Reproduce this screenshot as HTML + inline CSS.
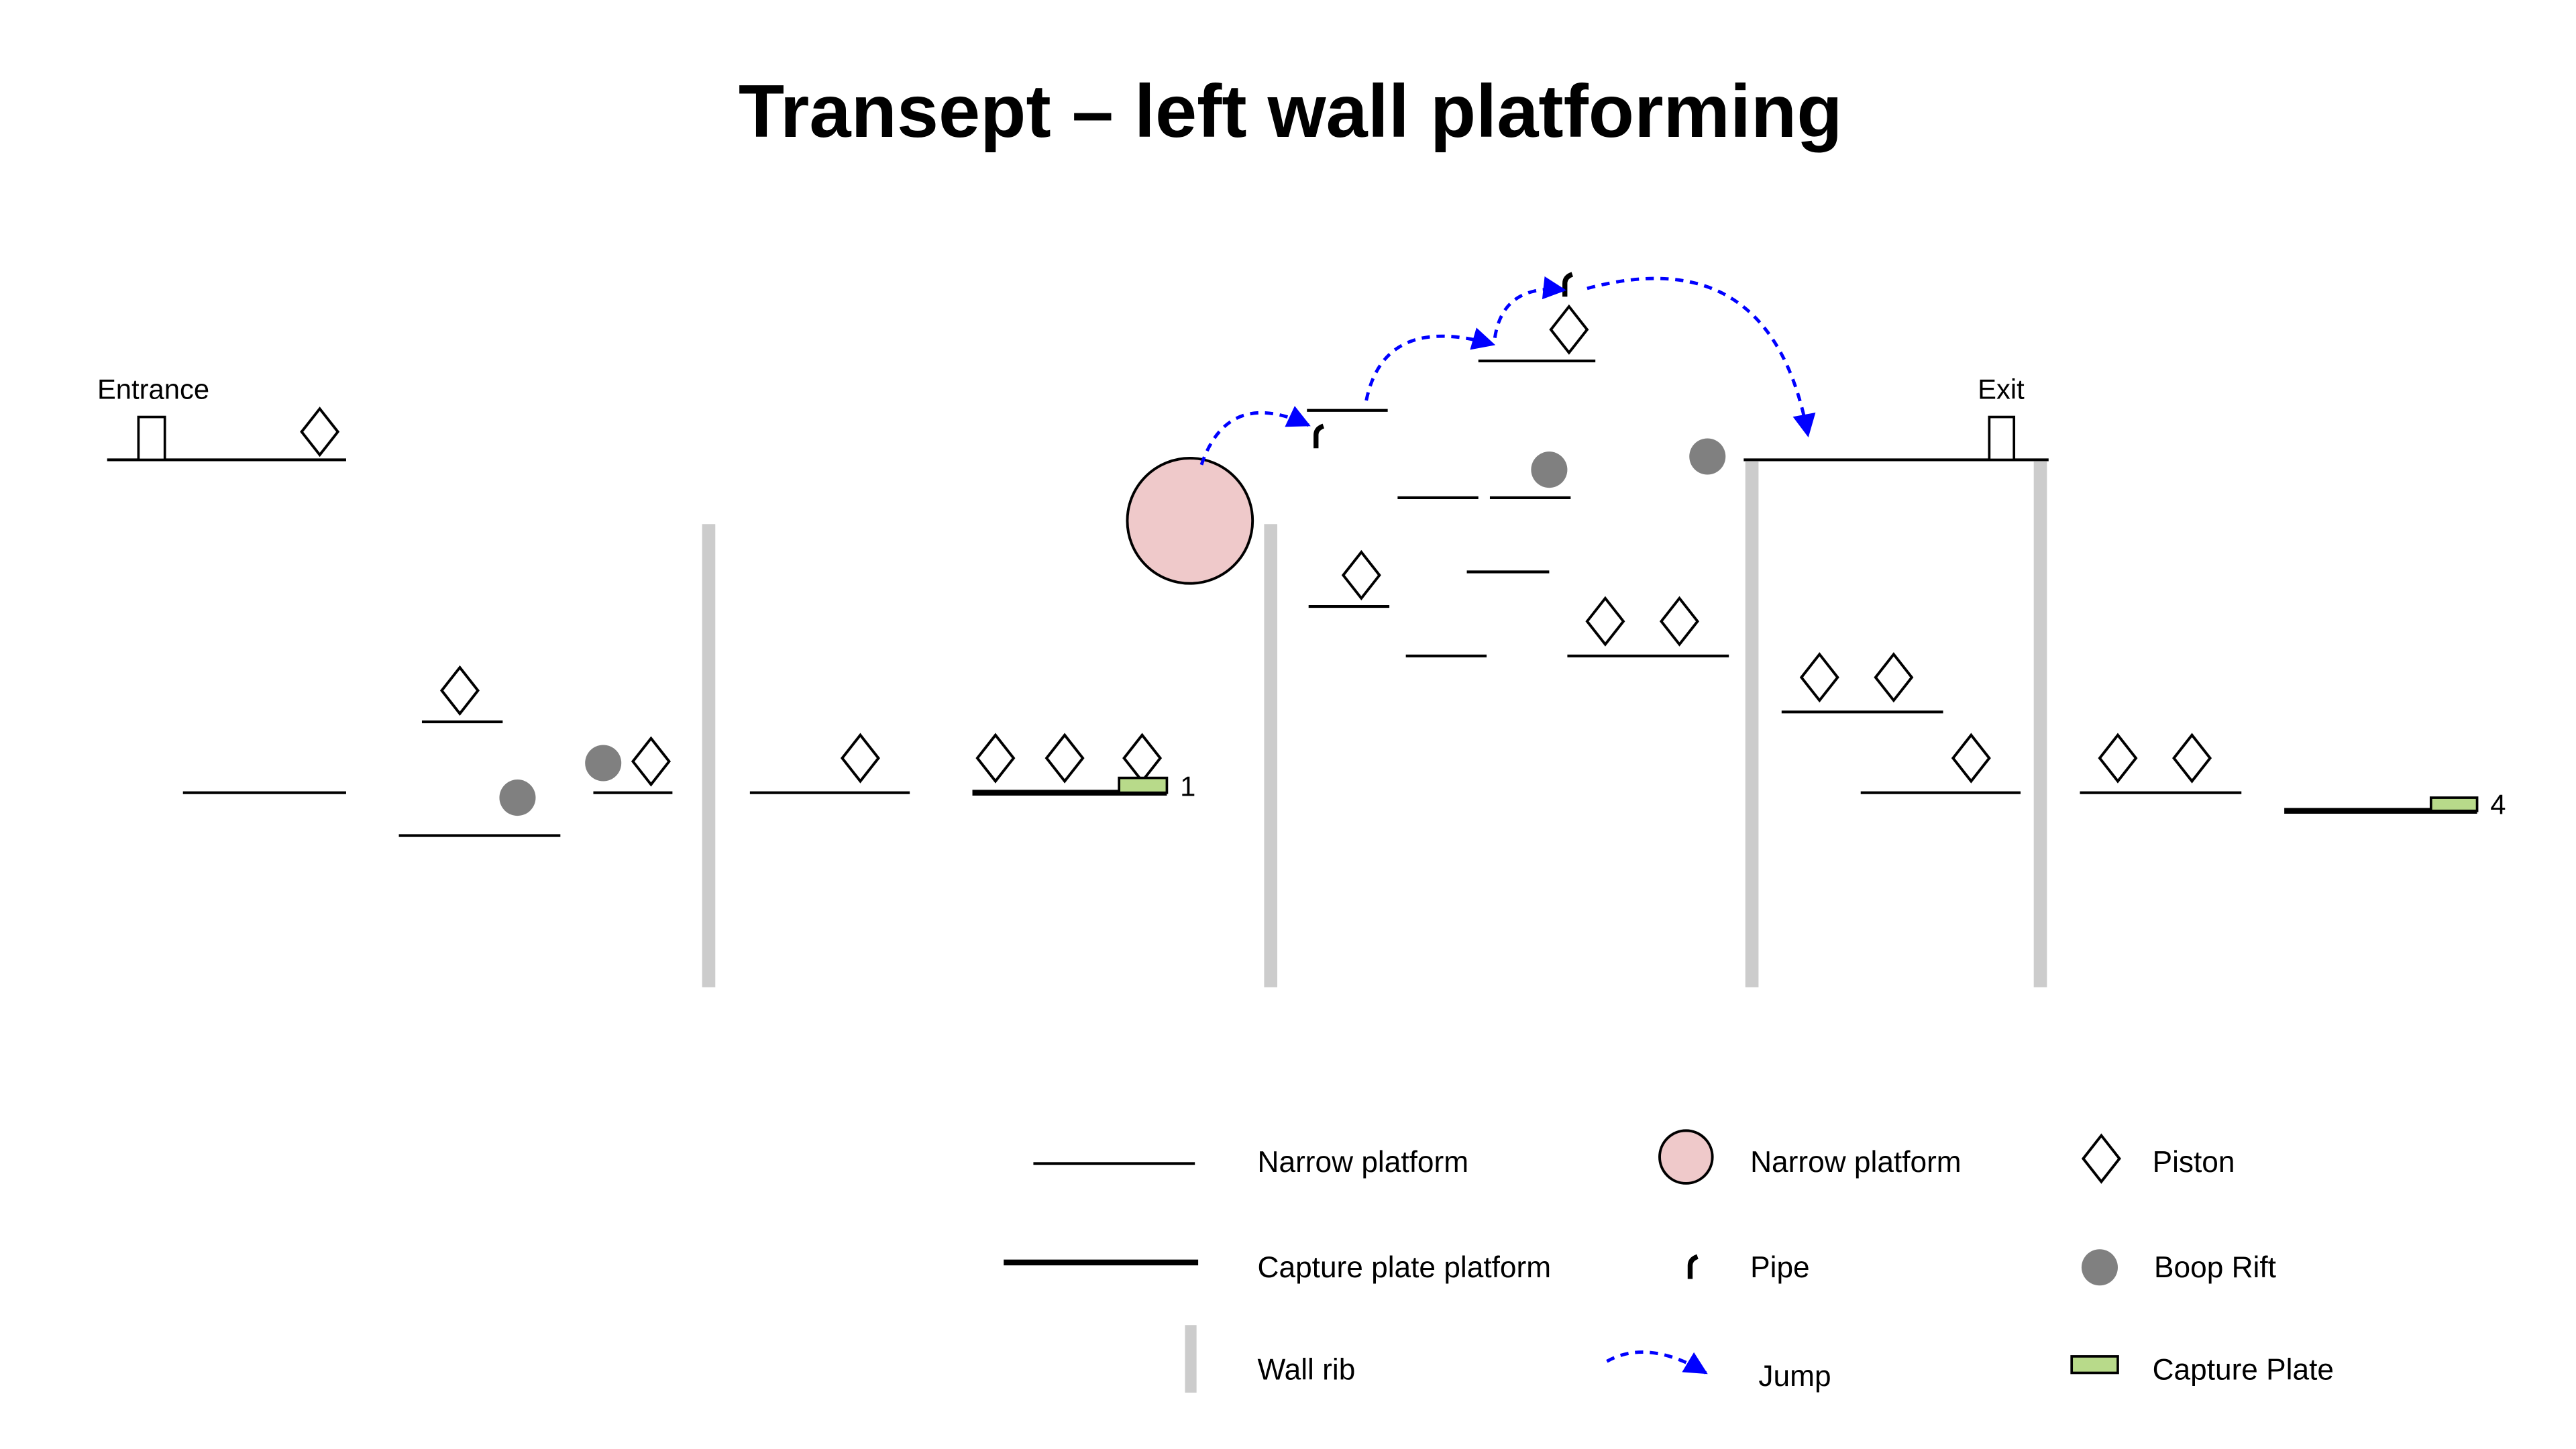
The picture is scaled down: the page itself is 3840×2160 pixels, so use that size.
<!DOCTYPE html>
<html><head><meta charset="utf-8"><style>html,body{margin:0;padding:0;background:#fff}svg{display:block}</style></head>
<body>
<svg width="3840" height="2160" viewBox="0 0 1563 879.2" xmlns="http://www.w3.org/2000/svg" font-family="'Liberation Sans', sans-serif">
<defs>
<marker id="ah2" viewBox="0 0 10 10" refX="9" refY="5" markerWidth="16" markerHeight="14" orient="auto" markerUnits="userSpaceOnUse">
<path d="M0,0 L10,5 L0,10 Z" fill="#0000ff"/></marker>
<g id="dm"><path d="M0,-14 L11,0 L0,14 L-11,0 Z" fill="#fff" stroke="#000" stroke-width="1.6"/></g>
<g id="pp"><path d="M-1.5,8 L-1.5,0 Q-1.5,-4 3,-5.5" fill="none" stroke="#000" stroke-width="3"/></g>
</defs>
<rect width="1563" height="880" fill="#fff"/>
<text x="783" y="83" text-anchor="middle" font-size="45.5" font-weight="bold">Transept – left wall platforming</text>

<g fill="#cccccc">
<rect x="426" y="318" width="8" height="281"/>
<rect x="767" y="318" width="8" height="281"/>
<rect x="1059" y="280" width="8" height="319"/>
<rect x="1234" y="280" width="8" height="319"/>
</g>

<g stroke="#000" stroke-width="1.7">
<line x1="65" y1="279" x2="210" y2="279"/>
<line x1="1058" y1="279" x2="1243" y2="279"/>
<line x1="111" y1="481" x2="210" y2="481"/>
<line x1="256" y1="438" x2="305" y2="438"/>
<line x1="242" y1="507" x2="340" y2="507"/>
<line x1="360" y1="481" x2="408" y2="481"/>
<line x1="455" y1="481" x2="552" y2="481"/>
<line x1="793" y1="249" x2="842" y2="249"/>
<line x1="848" y1="302" x2="897" y2="302"/>
<line x1="904" y1="302" x2="953" y2="302"/>
<line x1="897" y1="219" x2="968" y2="219"/>
<line x1="890" y1="347" x2="940" y2="347"/>
<line x1="794" y1="368" x2="843" y2="368"/>
<line x1="853" y1="398" x2="902" y2="398"/>
<line x1="951" y1="398" x2="1049" y2="398"/>
<line x1="1081" y1="432" x2="1179" y2="432"/>
<line x1="1129" y1="481" x2="1226" y2="481"/>
<line x1="1262" y1="481" x2="1360" y2="481"/>
<line x1="627" y1="706" x2="725" y2="706"/>
</g>
<g stroke="#000" stroke-width="3.5">
<line x1="590" y1="481" x2="708" y2="481"/>
<line x1="1386" y1="492" x2="1503" y2="492"/>
<line x1="609" y1="766" x2="727" y2="766"/>
</g>

<rect x="84" y="253" width="16" height="26" fill="#fff" stroke="#000" stroke-width="1.5"/>
<rect x="1207" y="253" width="15" height="26" fill="#fff" stroke="#000" stroke-width="1.5"/>
<text x="59" y="242" font-size="17">Entrance</text>
<text x="1200" y="242" font-size="17">Exit</text>

<use href="#dm" x="194" y="262"/>
<use href="#dm" x="279" y="419"/>
<use href="#dm" x="395" y="462"/>
<use href="#dm" x="522" y="460"/>
<use href="#dm" x="604" y="460"/>
<use href="#dm" x="646" y="460"/>
<use href="#dm" x="693" y="460"/>
<use href="#dm" x="952" y="200"/>
<use href="#dm" x="826" y="349"/>
<use href="#dm" x="974" y="377"/>
<use href="#dm" x="1019" y="377"/>
<use href="#dm" x="1104" y="411"/>
<use href="#dm" x="1149" y="411"/>
<use href="#dm" x="1196" y="460"/>
<use href="#dm" x="1285" y="460"/>
<use href="#dm" x="1330" y="460"/>
<use href="#dm" x="1275" y="703"/>

<g fill="#808080">
<circle cx="314" cy="484" r="11"/>
<circle cx="366" cy="463" r="11"/>
<circle cx="940" cy="285" r="11"/>
<circle cx="1036" cy="277" r="11"/>
<circle cx="1274" cy="769" r="11"/>
</g>

<g fill="#b8da8a" stroke="#000" stroke-width="1.5">
<rect x="679" y="472" width="29" height="9"/>
<rect x="1475" y="484" width="28" height="8"/>
<rect x="1257" y="823" width="28" height="10"/>
</g>
<text x="716" y="483" font-size="17">1</text>
<text x="1511" y="494" font-size="17">4</text>

<circle cx="722" cy="316" r="38" fill="#efc9ca" stroke="#000" stroke-width="1.6"/>
<circle cx="1023" cy="702" r="16" fill="#efc9ca" stroke="#000" stroke-width="1.6"/>

<use href="#pp" x="800" y="264"/>
<use href="#pp" x="951" y="172"/>
<use href="#pp" x="1027" y="768"/>

<g fill="none" stroke="#0000ff" stroke-width="2" stroke-dasharray="5,4">
<path d="M729,282 Q745,235 794,258" marker-end="url(#ah2)"/>
<path d="M829,243 Q840,190 906,209" marker-end="url(#ah2)"/>
<path d="M907,205 Q912,172 949,176" marker-end="url(#ah2)"/>
<path d="M963,175 Q1075,145 1097,264" marker-end="url(#ah2)"/>
<path d="M975,826 Q1000,812 1035,833" marker-end="url(#ah2)"/>
</g>

<rect x="719" y="804" width="7" height="41" fill="#cccccc"/>

<g font-size="18">
<text x="763" y="711">Narrow platform</text>
<text x="763" y="775">Capture plate platform</text>
<text x="763" y="837">Wall rib</text>
<text x="1062" y="711">Narrow platform</text>
<text x="1062" y="775">Pipe</text>
<text x="1067" y="841">Jump</text>
<text x="1306" y="711">Piston</text>
<text x="1307" y="775">Boop Rift</text>
<text x="1306" y="837">Capture Plate</text>
</g>
</svg>
</body></html>
